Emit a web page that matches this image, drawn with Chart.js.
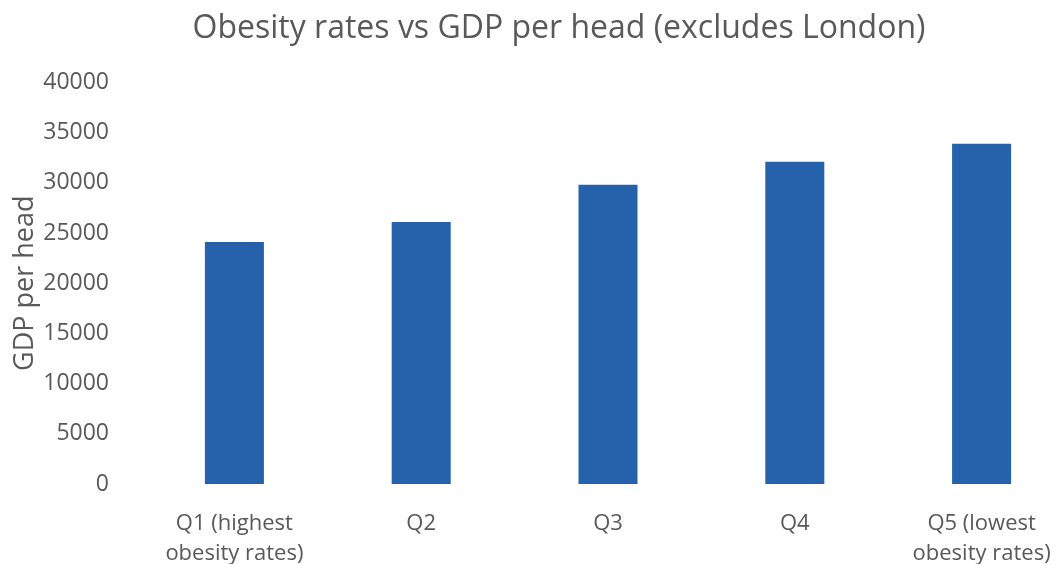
<!DOCTYPE html>
<html>
<head>
<meta charset="utf-8">
<script src="https://cdn.jsdelivr.net/npm/chart.js@4/dist/chart.umd.min.js"></script>
<style>
	html, body { margin: 0; padding: 0; background: #fff; overflow: hidden; }
	#wrap { position: relative; width: 1118px; height: 564px; }
</style>
</head>
<body>
<div id="wrap"><canvas id="gdpChart"></canvas></div>
<script>
(function () {
	'use strict';

	var quintiles = [
		['Q1 (highest', 'obesity rates)'],
		'Q2',
		'Q3',
		'Q4',
		['Q5 (lowest', 'obesity rates)']
	];
	var gdpPerHead = [24100, 26100, 29800, 32100, 33900];
	var yTicks = [0, 5000, 10000, 15000, 20000, 25000, 30000, 35000, 40000];

	var TEXT = '#595959';
	var BAR = '#2662ac';
	var FONT = "'Open Sans', 'Noto Sans', sans-serif";

	Chart.defaults.font.family = FONT;
	Chart.defaults.color = TEXT;

	new Chart(document.getElementById('gdpChart'), {
		type: 'bar',
		data: {
			labels: quintiles,
			datasets: [{
				label: 'GDP per head',
				data: gdpPerHead,
				backgroundColor: BAR,
				borderWidth: 0,
				categoryPercentage: 1,
				barPercentage: 0.316
			}]
		},
		options: {
			responsive: true,
			maintainAspectRatio: false,
			animation: false,
			layout: { padding: 0 },
			plugins: {
				legend: { display: false },
				tooltip: { enabled: false },
				title: {
					display: true,
					text: 'Obesity rates vs GDP per head (excludes London)',
					color: TEXT,
					font: { size: 32, weight: 'normal' },
					padding: { top: 10, bottom: 34 }
				}
			},
			scales: {
				x: {
					grid: { display: false },
					border: { display: false },
					ticks: { font: { size: 22, lineHeight: 1.36 }, padding: 17, maxRotation: 0, autoSkip: false },
					afterFit: function (scale) { scale.height = 80; }
				},
				y: {
					min: 0,
					max: 40000,
					grid: { display: false },
					border: { display: false },
					afterBuildTicks: function (scale) {
						scale.ticks = yTicks.map(function (v) { return { value: v }; });
					},
					ticks: {
						font: { size: 23 },
						padding: 24,
						callback: function (value) { return String(value); }
					},
					title: {
						display: true,
						text: 'GDP per head',
						color: TEXT,
						font: { size: 27, weight: 'normal' },
						padding: { top: 9, bottom: 0 }
					},
					afterFit: function (scale) { scale.width = 141; }
				},
				spacer: {
					position: 'right',
					display: true,
					grid: { display: false },
					border: { display: false },
					ticks: { display: false },
					afterFit: function (scale) { scale.width = 43; }
				}
			}
		}
	});
})();
</script>
</body>
</html>
